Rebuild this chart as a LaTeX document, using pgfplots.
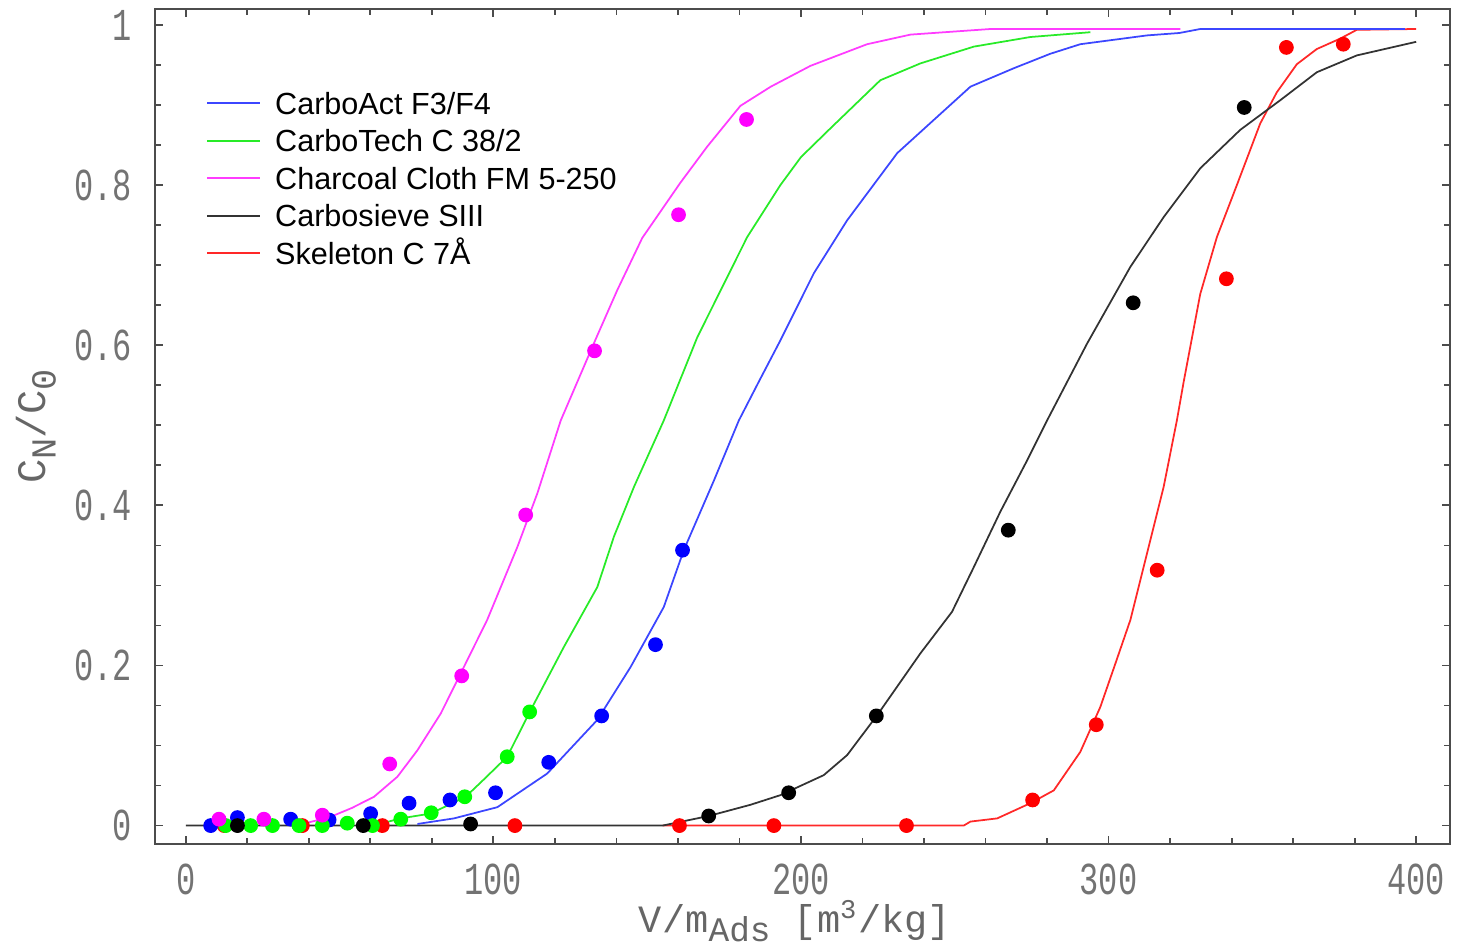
\documentclass[border=0pt]{standalone}
\usepackage{fontspec}
\setmainfont{Liberation Sans}
\newfontfamily\tickfont[FakeStretch=0.7]{Liberation Mono}
\newfontfamily\labelfont{Liberation Mono}
\usepackage{pgfplots}
\pgfplotsset{compat=1.18}
\definecolor{cred}{RGB}{255,0,0}
\definecolor{cgreen}{RGB}{0,255,0}
\definecolor{cblue}{RGB}{0,0,255}
\definecolor{cmag}{RGB}{255,0,255}
\definecolor{lblue}{RGB}{60,70,255}
\definecolor{lgreen}{RGB}{40,235,40}
\definecolor{lmag}{RGB}{255,60,255}
\definecolor{lred}{RGB}{255,40,40}

\begin{document}
\begin{tikzpicture}
\begin{axis}[
  scale only axis, width=129.5mm, height=83.5mm,
  xmin=-10, xmax=411, ymin=-0.023, ymax=1.02,
  xtick={0,100,200,300,400}, ytick={0,0.2,0.4,0.6,0.8,1},
  minor x tick num=4, minor y tick num=3,
  tick align=inside,
  major tick length=2.4pt, minor tick length=1.6pt,
  every tick/.style={black!70, line width=0.5pt},
  axis line style={black!70, line width=0.6pt},
  /pgf/number format/assume math mode=true,
  ticklabel style={font=\tickfont\fontsize{13}{15}\selectfont, text=black!55, inner sep=0pt},
  xticklabel style={yshift=-5.6pt},
  yticklabel style={xshift=-6.3pt},
  xlabel={V/m\raisebox{-0.45ex}{\fontsize{9.8}{12}\selectfont Ads} [m\textsuperscript{3}/kg]},
  ylabel={C\raisebox{-0.45ex}{\fontsize{10}{12}\selectfont N}/C\raisebox{-0.45ex}{\fontsize{10}{12}\selectfont 0}},
  label style={font=\labelfont\fontsize{11}{14}\selectfont, text=black!60, inner sep=0pt},
  xlabel style={at={(rel axis cs:0.4942,-0.106)}, anchor=base},
  ylabel style={at={(rel axis cs:-0.0842,0.5)}, anchor=base, font=\labelfont\fontsize{11.5}{14}\selectfont},
  legend style={at={(axis cs:6.5,0.917)}, anchor=north west, draw=none, fill=none,
    inner sep=0pt, row sep=1.55mm, column sep=1.4mm,
    font=\fontsize{8.7}{10}\selectfont,
    nodes={inner sep=0pt, text height=2.2mm, text depth=0pt}},
  legend cell align=left,
  legend image code/.code={\draw[#1] (0mm,0mm) -- (5.3mm,0mm);},
]
% fitted curves
\addplot[lred, line width=0.5pt, forget plot] table {
x y
155 0
252.9 0
255.1 0.005
263.8 0.009
274.6 0.028
282.2 0.044
290.8 0.092
297.3 0.148
302 0.2
307.1 0.257
312.5 0.34
317.9 0.423
322.2 0.506
324.4 0.554
329.8 0.664
335.2 0.735
341.7 0.8
349.3 0.877
354.7 0.916
361.2 0.951
367.7 0.97
375.3 0.983
380.7 0.994
400 0.995
};
\addplot[black!80, line width=0.5pt, forget plot] table {
x y
0 0
155 0
170 0.012
183.6 0.026
193.3 0.038
207.4 0.063
215 0.088
224.8 0.138
238.8 0.215
249.1 0.267
256.2 0.323
264.8 0.392
273.5 0.456
280 0.506
293 0.602
307.1 0.698
317.9 0.76
329.8 0.821
342.8 0.869
355.8 0.906
367.7 0.941
380.7 0.962
400 0.979
};
\addplot[lblue, line width=0.5pt, forget plot] table {
x y
75.3 0.002
87.2 0.009
101.3 0.023
117.5 0.065
133.8 0.132
144.6 0.198
155.4 0.273
161.9 0.344
171.7 0.431
179.8 0.506
186.5 0.556
193.3 0.606
204.2 0.69
215 0.756
231.3 0.84
255.1 0.923
269.2 0.946
281 0.964
290.8 0.976
312.5 0.987
323 0.99
329.8 0.995
396.3 0.995
};
\addplot[lgreen, line width=0.5pt, forget plot] table {
x y
61 0
69.9 0.009
79.6 0.015
91 0.036
97 0.058
104.5 0.086
112.1 0.144
122.9 0.223
133.8 0.298
139.2 0.361
145.7 0.423
155.4 0.506
166.3 0.610
182.5 0.735
193.3 0.80
200 0.835
209.6 0.871
225.8 0.931
238.8 0.952
256.2 0.973
274.6 0.985
294.1 0.991
};
\addplot[lmag, line width=0.5pt, forget plot] table {
x y
40 0.004
47.1 0.011
54 0.022
61.2 0.036
68.8 0.061
75.3 0.094
82.9 0.14
90.4 0.198
98 0.257
107.8 0.348
114.3 0.415
121.9 0.506
133.2 0.607
140.3 0.669
148.4 0.734
160.8 0.803
169.5 0.848
180.3 0.899
190.2 0.923
203.1 0.949
221.5 0.976
235.6 0.988
261.6 0.995
323.3 0.995
};
% measured points
\addplot[only marks, mark=*, mark size=1.9pt, cred, forget plot] table {
x y
12.5 0
37.9 0
63.9 0
107 0
160.5 0
191.2 0
234.3 0
275.3 0.032
296 0.126
315.8 0.319
338.3 0.683
357.8 0.972
376.3 0.976
};
\addplot[only marks, mark=*, mark size=1.9pt, cblue, forget plot] table {
x y
8.1 0
16.8 0.01
34.1 0.008
46.6 0.007
60.1 0.015
72.6 0.028
85.9 0.032
100.7 0.041
118 0.079
135.2 0.137
152.7 0.226
161.5 0.344
};
\addplot[only marks, mark=*, mark size=1.9pt, cgreen, forget plot] table {
x y
13 0
21.1 0
28.2 0
36.8 0
44.4 0
52.5 0.003
60.7 0
69.9 0.008
79.8 0.016
90.7 0.036
104.5 0.086
111.8 0.142
};
\addplot[only marks, mark=*, mark size=1.9pt, cmag, forget plot] table {
x y
10.8 0.008
25.4 0.008
44.4 0.013
66.3 0.077
89.7 0.187
110.5 0.388
132.9 0.593
160.2 0.763
182.3 0.882
};
\addplot[only marks, mark=*, mark size=1.9pt, black, forget plot] table {
x y
16.8 0
57.7 0
92.6 0.002
170 0.012
196 0.041
224.5 0.137
267.4 0.369
308 0.653
344.1 0.897
};
\addlegendimage{lblue, line width=0.5pt}
\addlegendentry{CarboAct F3/F4}
\addlegendimage{lgreen, line width=0.5pt}
\addlegendentry{CarboTech C 38/2}
\addlegendimage{lmag, line width=0.5pt}
\addlegendentry{Charcoal Cloth FM 5-250}
\addlegendimage{black!80, line width=0.5pt}
\addlegendentry{Carbosieve SIII}
\addlegendimage{lred, line width=0.5pt}
\addlegendentry{Skeleton C 7Å}
\end{axis}
\path ([shift={(-15.5mm,-10.3mm)}]current axis.south west) rectangle ([shift={(0.8mm,0.9mm)}]current axis.north east);
\end{tikzpicture}
\end{document}
